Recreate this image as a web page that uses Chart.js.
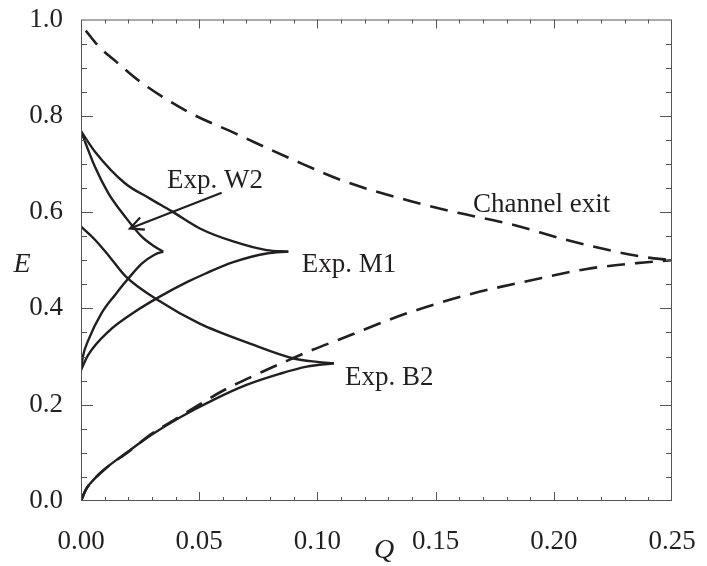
<!DOCTYPE html>
<html>
<head>
<meta charset="utf-8">
<script src="https://cdn.jsdelivr.net/npm/chart.js@4.4.1/dist/chart.umd.min.js"></script>
<style>
  html, body { margin: 0; padding: 0; background: #fff; }
</style>
</head>
<body>
<canvas id="chart" width="707" height="566"></canvas>
<script>
// Channel exit (dashed), upper and lower branch
const exitUpperQ = [0.002, 0.0075, 0.015, 0.025, 0.045, 0.065, 0.09, 0.112, 0.14, 0.16, 0.18, 0.208, 0.2365, 0.25];
const exitUpperE = [0.977, 0.944, 0.912, 0.871, 0.809, 0.764, 0.708, 0.663, 0.622, 0.598, 0.577, 0.539, 0.508, 0.5];
const exitLowerQ = [0, 0.002, 0.004, 0.010, 0.020, 0.030, 0.040, 0.050, 0.060, 0.077, 0.088, 0.098, 0.109, 0.138, 0.165, 0.19, 0.214, 0.235, 0.25];
const exitLowerE = [0, 0.023, 0.037, 0.066, 0.102, 0.140, 0.170, 0.200, 0.229, 0.269, 0.293, 0.314, 0.335, 0.39, 0.43, 0.458, 0.482, 0.494, 0.5];

// Exp. W2
const w2UpperQ = [0, 0.0059, 0.0116, 0.0186, 0.0257, 0.0313, 0.0348];
const w2UpperE = [0.768, 0.694, 0.639, 0.591, 0.549, 0.528, 0.518];
const w2LowerQ = [0, 0.0008, 0.0031, 0.0087, 0.0144, 0.020, 0.0257, 0.0313, 0.0348];
const w2LowerE = [0.272, 0.30, 0.334, 0.39, 0.428, 0.462, 0.493, 0.512, 0.518];

// Exp. M1
const m1UpperQ = [0, 0.006, 0.0186, 0.0292, 0.0383, 0.0503, 0.0644, 0.0785, 0.0877];
const m1UpperE = [0.768, 0.725, 0.66, 0.628, 0.602, 0.566, 0.539, 0.521, 0.518];
const m1LowerQ = [0, 0.003, 0.0116, 0.0228, 0.0335, 0.045, 0.0525, 0.0644, 0.0785, 0.0877];
const m1LowerE = [0.272, 0.303, 0.352, 0.393, 0.425, 0.455, 0.472, 0.496, 0.514, 0.518];

// Exp. B2
const b2UpperQ = [0, 0.006, 0.012, 0.019, 0.033, 0.050, 0.0715, 0.090, 0.100, 0.107];
const b2UpperE = [0.570, 0.542, 0.508, 0.466, 0.416, 0.369, 0.327, 0.296, 0.289, 0.286];
const b2LowerQ = [0, 0.002, 0.004, 0.010, 0.020, 0.030, 0.042, 0.056, 0.070, 0.084, 0.0955, 0.107];
const b2LowerE = [0, 0.023, 0.037, 0.066, 0.103, 0.138, 0.174, 0.21, 0.241, 0.264, 0.279, 0.286];

// text labels: [text, Q, E] (left edge, baseline)
const labels = [
  ['Exp. W2', 0.0364, 0.650],
  ['Channel exit', 0.1658, 0.601],
  ['Exp. M1', 0.0934, 0.476],
  ['Exp. B2', 0.1117, 0.241]
];
// arrow for W2: tail -> head
const arrowQ = [0.0595, 0.0207];
const arrowE = [0.640, 0.566];

const ink = '#231f20';
const frame = '#555555';
const serif = '"Liberation Serif", "Times New Roman", serif';

function pts(xs, ys) {
  return xs.map((x, i) => ({ x: x, y: ys[i] }));
}

function line(xs, ys, dashed) {
  return {
    data: pts(xs, ys),
    showLine: true,
    borderColor: ink,
    borderWidth: dashed ? 2.6 : 2.4,
    borderDash: dashed ? [18, 10] : [],
    pointRadius: 0,
    fill: false,
    cubicInterpolationMode: 'monotone'
  };
}

const decor = {
  id: 'decor',
  afterDraw(chart) {
    const ctx = chart.ctx;
    const a = chart.chartArea;
    const xs = chart.scales.x, ys = chart.scales.y;
    ctx.save();
    // frame
    ctx.strokeStyle = frame;
    ctx.lineWidth = 1;
    ctx.strokeRect(a.left + 0.5, a.top + 0.5, a.right - a.left - 1, a.bottom - a.top - 1);
    // inward ticks, x every 0.01, y every 0.05
    ctx.beginPath();
    for (let i = 1; i < 25; i++) {
      const px = Math.round(xs.getPixelForValue(i * 0.01)) + 0.5;
      const len = i % 5 === 0 ? 9 : 4;
      ctx.moveTo(px, a.bottom); ctx.lineTo(px, a.bottom - len);
      ctx.moveTo(px, a.top); ctx.lineTo(px, a.top + len);
    }
    for (let i = 1; i < 20; i++) {
      const py = Math.round(ys.getPixelForValue(i * 0.05)) + 0.5;
      const len = i % 4 === 0 ? 12 : 6;
      ctx.moveTo(a.left, py); ctx.lineTo(a.left + len, py);
      ctx.moveTo(a.right, py); ctx.lineTo(a.right - len, py);
    }
    ctx.stroke();

    // text labels
    ctx.fillStyle = ink;
    ctx.font = '27px ' + serif;
    ctx.textAlign = 'left';
    ctx.textBaseline = 'alphabetic';
    labels.forEach(l => {
      ctx.fillText(l[0], xs.getPixelForValue(l[1]), ys.getPixelForValue(l[2]));
    });

    // arrow
    const x1 = xs.getPixelForValue(arrowQ[0]), y1 = ys.getPixelForValue(arrowE[0]);
    const x2 = xs.getPixelForValue(arrowQ[1]), y2 = ys.getPixelForValue(arrowE[1]);
    const ang = Math.atan2(y2 - y1, x2 - x1);
    ctx.strokeStyle = ink;
    ctx.lineWidth = 2.2;
    ctx.beginPath();
    ctx.moveTo(x1, y1); ctx.lineTo(x2, y2);
    ctx.moveTo(x2 - 15 * Math.cos(ang - 0.45), y2 - 15 * Math.sin(ang - 0.45));
    ctx.lineTo(x2, y2);
    ctx.lineTo(x2 - 15 * Math.cos(ang + 0.45), y2 - 15 * Math.sin(ang + 0.45));
    ctx.stroke();

    // axis titles
    ctx.font = 'italic 28px ' + serif;
    ctx.textAlign = 'center';
    ctx.textBaseline = 'alphabetic';
    ctx.fillText('E', 22, 272);
    ctx.fillText('Q', 384, 558);
    ctx.restore();
  }
};

new Chart(document.getElementById('chart'), {
  type: 'scatter',
  data: {
    datasets: [
      line(exitUpperQ, exitUpperE, true),
      line(exitLowerQ, exitLowerE, true),
      line(w2UpperQ, w2UpperE, false),
      line(w2LowerQ, w2LowerE, false),
      line(m1UpperQ, m1UpperE, false),
      line(m1LowerQ, m1LowerE, false),
      line(b2UpperQ, b2UpperE, false),
      line(b2LowerQ, b2LowerE, false)
    ]
  },
  options: {
    responsive: false,
    animation: false,
    layout: { padding: { left: 0, right: 35, top: 19.5, bottom: 0 } },
    plugins: { legend: { display: false }, tooltip: { enabled: false } },
    scales: {
      x: {
        type: 'linear', min: 0, max: 0.25,
        grid: { display: false, drawTicks: false },
        border: { display: false },
        ticks: {
          stepSize: 0.05, padding: 25, color: ink,
          font: { family: serif, size: 27 },
          callback: v => v.toFixed(2)
        },
        afterFit(s) { s.height = 65; s.paddingLeft = 0; s.paddingRight = 0; }
      },
      y: {
        type: 'linear', min: 0, max: 1,
        grid: { display: false, drawTicks: false },
        border: { display: false },
        ticks: {
          stepSize: 0.2, padding: 18, color: ink,
          font: { family: serif, size: 27 },
          callback: v => v.toFixed(1)
        },
        afterFit(s) { s.width = 81; s.paddingTop = 0; s.paddingBottom = 0; }
      }
    }
  },
  plugins: [decor]
});
</script>
</body>
</html>
